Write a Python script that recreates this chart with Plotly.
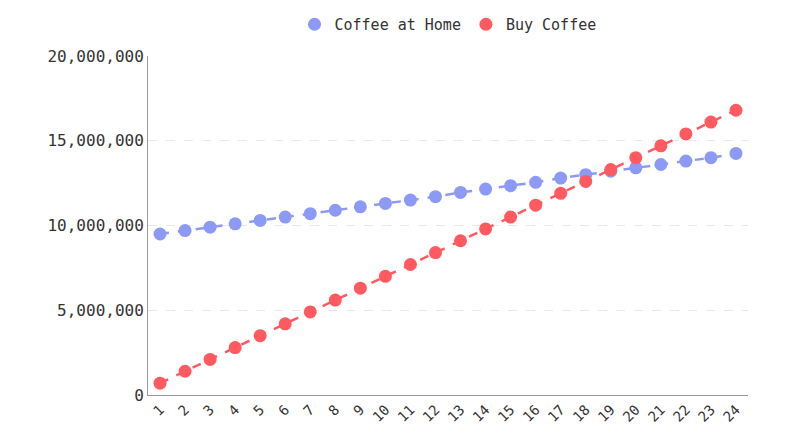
import plotly.graph_objects as go

years = list(range(1, 25))
coffee_home = [9.5e6, 9.7e6, 9.9e6, 10.1e6, 10.3e6, 10.5e6, 10.7e6, 10.9e6, 11.1e6, 11.3e6, 11.5e6, 11.7e6,
               11.95e6, 12.15e6, 12.35e6, 12.55e6, 12.8e6, 13.0e6, 13.2e6, 13.4e6, 13.6e6, 13.8e6, 14.0e6, 14.25e6]
buy_coffee = [0.7e6, 1.4e6, 2.1e6, 2.8e6, 3.5e6, 4.2e6, 4.9e6, 5.6e6, 6.3e6, 7.0e6, 7.7e6, 8.4e6,
              9.1e6, 9.8e6, 10.5e6, 11.2e6, 11.9e6, 12.6e6, 13.3e6, 14.0e6, 14.7e6, 15.4e6, 16.1e6, 16.8e6]

series = [("Coffee at Home", coffee_home, "#8c9af5"), ("Buy Coffee", buy_coffee, "#ff5a5f")]

fig = go.Figure()
for name, vals, color in series:
    fig.add_trace(go.Scatter(x=years, y=vals, name=name, mode="lines+markers", showlegend=False,
                             line=dict(color=color, width=2.5, dash="dash"),
                             marker=dict(size=13, color=color)))
# legend entries show only a dot, like the original
for name, vals, color in series:
    fig.add_trace(go.Scatter(x=[None], y=[None], name=name, mode="markers",
                             marker=dict(size=13, color=color)))

fig.update_layout(
    width=801, height=447,
    paper_bgcolor="white", plot_bgcolor="white",
    font=dict(family="DejaVu Sans Mono", size=15, color="#333"),
    margin=dict(l=140, r=61, t=48, b=60, autoexpand=False),
    legend=dict(orientation="h", x=0.5, xanchor="center", y=1.0, yanchor="top", yref="container",
                font=dict(size=15), itemwidth=30, tracegroupgap=0),
)
fig.update_xaxes(tickmode="array", tickvals=years, ticktext=[str(y) for y in years],
                 tickangle=-45, range=[0.52, 24.48], showline=True, linecolor="#999",
                 showgrid=False, ticks="", tickfont=dict(size=14))
fig.update_yaxes(range=[0, 20e6], tickvals=[0, 5e6, 10e6, 15e6, 20e6],
                 ticktext=["0", "5,000,000", "10,000,000", "15,000,000", "20,000,000"],
                 showline=True, linecolor="#999", gridcolor="#e8e8e8", griddash="dash",
                 zeroline=False, ticks="", tickfont=dict(size=16))

fig.write_html("out.html")
